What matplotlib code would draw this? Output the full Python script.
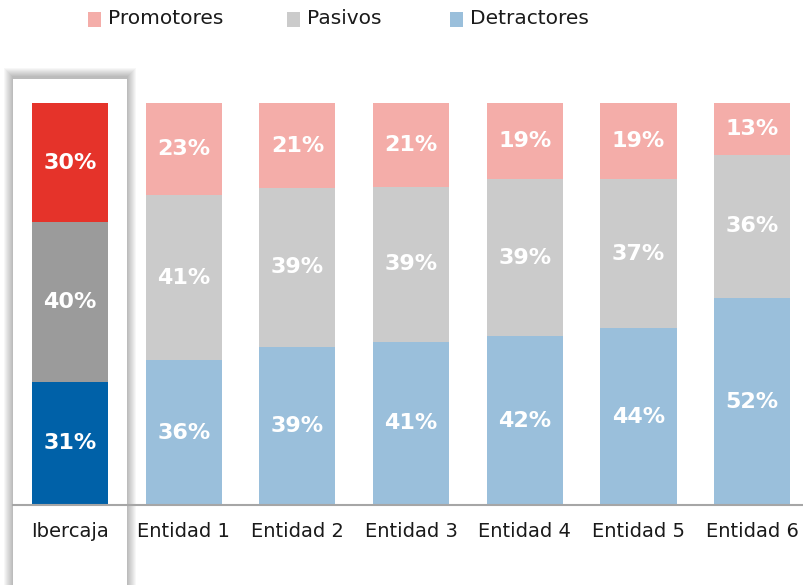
import numpy as np
import matplotlib.pyplot as plt
from matplotlib.patches import Rectangle

categories = ['Ibercaja', 'Entidad 1', 'Entidad 2', 'Entidad 3', 'Entidad 4', 'Entidad 5', 'Entidad 6']
detractores = [31, 36, 39, 41, 42, 44, 52]
pasivos = [40, 41, 39, 39, 39, 37, 36]
promotores = [30, 23, 21, 21, 19, 19, 13]

series_names = ['Promotores', 'Pasivos', 'Detractores']
light_colors = {'Promotores': '#F4ADA9', 'Pasivos': '#CBCBCB', 'Detractores': '#9ABFDB'}
dark_colors = {'Promotores': '#E5332A', 'Pasivos': '#9B9B9B', 'Detractores': '#0061A8'}

W, H = 804, 585
fig = plt.figure(figsize=(W / 100, H / 100), dpi=100)
fig.patch.set_facecolor('white')

# highlighted box behind Ibercaja, with a soft shadow
bx0, bx1, by0 = 13, 127, 79
for k in range(9, 0, -1):
    fig.patches.append(Rectangle(((bx0 - k) / W, 0), (bx1 - bx0 + 2 * k) / W,
                                 (H - by0 + k + 2) / H, transform=fig.transFigure,
                                 facecolor='black', alpha=0.03, edgecolor='none',
                                 zorder=-3))
fig.patches.append(Rectangle((bx0 / W, 0), (bx1 - bx0) / W, (H - by0) / H,
                             transform=fig.transFigure, facecolor='white',
                             edgecolor='none', zorder=-2))

ax = fig.add_axes([13 / W, (H - 505) / H, (W - 13) / W, (505 - 103) / H])
ax.patch.set_alpha(0)
ax.set_zorder(1)

x = np.arange(len(categories))
data = {'Detractores': np.array(detractores, float),
        'Pasivos': np.array(pasivos, float),
        'Promotores': np.array(promotores, float)}
total = data['Detractores'] + data['Pasivos'] + data['Promotores']

bottom = np.zeros(len(categories))
for name in ['Detractores', 'Pasivos', 'Promotores']:
    vals = data[name] / total * 100
    cols = [dark_colors[name] if i == 0 else light_colors[name] for i in range(len(categories))]
    ax.bar(x, vals, bottom=bottom, width=0.67, color=cols, edgecolor='none', zorder=2)
    for i in range(len(categories)):
        ax.text(x[i], bottom[i] + vals[i] / 2, f'{int(data[name][i])}%', ha='center',
                va='center', color='white', fontsize=16, fontweight='bold', zorder=3)
    bottom += vals

ax.set_xlim(-57 / 113.7, (W - 70) / 113.7)
ax.set_ylim(0, 100)
for s in ['top', 'right', 'left']:
    ax.spines[s].set_visible(False)
ax.spines['bottom'].set_color('#A6A6A6')
ax.spines['bottom'].set_linewidth(1.5)
ax.spines['bottom'].set_zorder(4)
ax.set_yticks([])
ax.set_xticks(x)
ax.set_xticklabels(categories, fontsize=14, color='#1a1a1a')
ax.tick_params(axis='x', length=0, pad=12)

# legend
leg_x = [88, 287, 450]
for name, lx in zip(series_names, leg_x):
    fig.patches.append(Rectangle((lx / W, (H - 27) / H), 13 / W, 15 / H,
                                 transform=fig.transFigure, facecolor=light_colors[name],
                                 edgecolor='none'))
    fig.text((lx + 20) / W, (H - 19) / H, name, fontsize=14.5, color='#1a1a1a',
             va='center', ha='left')

fig.savefig('out.png', dpi=100)
